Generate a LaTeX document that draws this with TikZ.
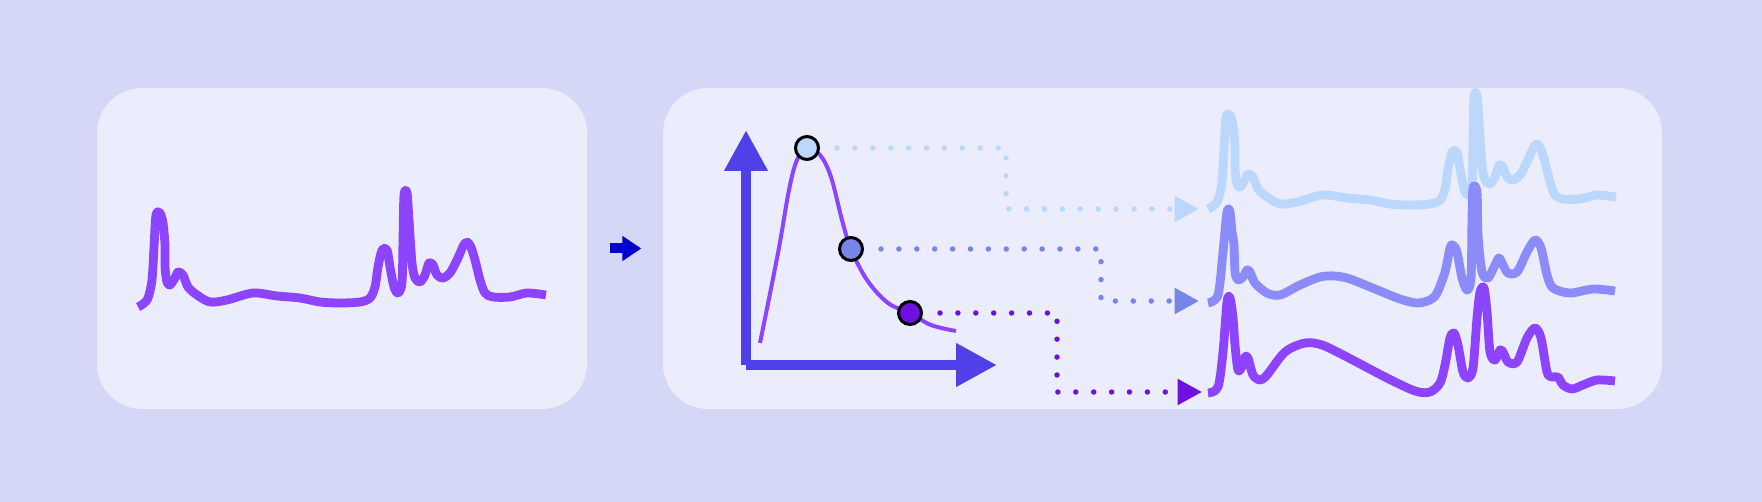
\documentclass[tikz,border=0pt]{standalone}
\usepackage{tikz}
\usetikzlibrary{arrows.meta}
\usepackage{xcolor}
\definecolor{ColBg}{RGB}{213,215,247}
\definecolor{ColPanel}{RGB}{235,237,252}
\definecolor{ColSig}{RGB}{140,68,255}
\definecolor{ColLight}{RGB}{187,215,252}
\definecolor{ColMid}{RGB}{139,139,250}
\definecolor{ColDotB}{RGB}{117,133,232}
\definecolor{ColDark}{RGB}{112,16,224}
\definecolor{ColAxis}{RGB}{80,64,232}
\definecolor{ColStep}{RGB}{0,0,204}
\tikzstyle{PanelBox}=[rectangle,rounded corners=4.5mm,fill=ColPanel,minimum height=32.1mm,inner sep=0pt]
\tikzstyle{SigLine}=[line width=0.88mm,line join=round]
\tikzstyle{AxisLine}=[ColAxis,line width=1.05mm,-{Triangle[length=4.1mm,width=4.1mm]}]
\tikzstyle{PointNode}=[circle,draw=black,line width=0.3mm,minimum size=2.3mm,inner sep=0pt]
\tikzstyle{DotLine}=[line width=0.55mm,line cap=round,dash pattern=on 0pt off 1.79mm,
shorten <=1.7mm,-{Triangle[length=2.45mm,width=2.5mm]}]
% raw trace, reused for the first fitted trace
\newcommand{\RawSignal}[1]{\draw[SigLine,#1]plot[smooth,tension=.5]coordinates{(138,307)(143,304)(148,298)(152,280)(154,247)(156,215)(160,213)(163,223)(165,245)(165,267)(167,282)(170,285)(175,278)(178,272)(183,275)(188,287)(197,295)(210,302)(227,300)(253,293)(277,296)(300,298)(320,302)(340,303)(360,302)(370,298)(375,287)(378,267)(382,250)(387,250)(390,267)(394,287)(398,293)(402,283)(403,240)(404,195)(407,193)(409,220)(412,263)(415,278)(420,282)(425,275)(429,263)(433,265)(437,275)(443,278)(450,273)(457,260)(465,243)(470,245)(475,260)(480,280)(485,293)(493,297)(510,297)(527,293)(546,295)};}

\begin{document}
\begin{tikzpicture}[x=0.1mm,y=-0.1mm]
        \fill[ColBg](0,0)rectangle(1762,502);
        \node[PanelBox,minimum width=49mm](rawbox)at(342,248.5){};
        \node[PanelBox,minimum width=99.9mm](fitbox)at(1162.5,248.5){};
        \draw[ColStep,line width=1mm,-{Triangle[length=1.9mm,width=2.4mm]},shorten <=2.2mm,shorten >=2.1mm](rawbox.east)--(fitbox.west);
        \RawSignal{ColSig}
        % axes and decay curve
        \coordinate(O)at(746,365);
        \coordinate(ytip)at(746,130);
        \coordinate(xtip)at(997,365);
        \draw[AxisLine](O)--(ytip);
        \draw[AxisLine](O)--(xtip);
        \draw[ColSig,line width=0.4mm]plot[smooth,tension=.6]coordinates{(760,343)(778,253)(789,190)(797,160)(807,148)(820,155)(831,177)(842,220)(851,249)(867,280)(888,303)(910,313)(931,325)(956,331)};
        \node[PointNode,fill=ColLight](p1)at(807,148){};
        \node[PointNode,fill=ColDotB](p2)at(851,249){};
        \node[PointNode,fill=ColDark](p3)at(910,313){};
        \coordinate(t1)at(1199,209);
        \coordinate(t2)at(1199,301);
        \coordinate(t3)at(1202,392);
        \draw[DotLine,ColLight](p1)--(1006,148)--(1006,209)--(t1);
        \draw[DotLine,ColDotB](p2)--(1101,249)--(1101,301)--(t2);
        \draw[DotLine,ColDark](p3)--(1057,313)--(1057,392)--(t3);
        % fitted traces
        \RawSignal{ColLight,shift={(1070,-98)}}
        \draw[SigLine,ColMid]plot[smooth,tension=.5]coordinates{(1208,303)(1218,295)(1223,252)(1227,212)(1230,212)(1232,232)(1234,245)(1235,272)(1238,280)(1243,277)(1247,270)(1250,272)(1255,283)(1267,293)(1280,295)(1300,285)(1320,277)(1335,276)(1350,279)(1375,289)(1400,299)(1417,303)(1430,300)(1437,293)(1445,272)(1450,248)(1453,245)(1457,252)(1462,278)(1467,290)(1471,278)(1472,218)(1473,188)(1477,192)(1478,235)(1482,272)(1488,278)(1495,265)(1499,258)(1503,265)(1508,273)(1517,272)(1527,252)(1535,240)(1541,248)(1547,275)(1553,288)(1570,293)(1593,289)(1615,291)};
        \draw[SigLine,ColSig]plot[smooth,tension=.5]coordinates{(1208,393)(1218,387)(1223,352)(1227,302)(1230,298)(1233,318)(1235,345)(1238,370)(1242,367)(1245,357)(1248,358)(1253,375)(1260,380)(1267,375)(1285,352)(1305,343)(1322,345)(1345,356)(1385,377)(1415,391)(1430,392)(1440,383)(1445,365)(1450,338)(1454,333)(1458,345)(1463,372)(1468,378)(1473,368)(1477,318)(1480,292)(1484,288)(1487,312)(1490,352)(1495,360)(1500,350)(1503,352)(1508,362)(1517,362)(1527,338)(1535,328)(1541,338)(1547,372)(1552,377)(1558,377)(1563,385)(1572,389)(1583,385)(1597,380)(1615,381)};
    \end{tikzpicture}
\end{document}
